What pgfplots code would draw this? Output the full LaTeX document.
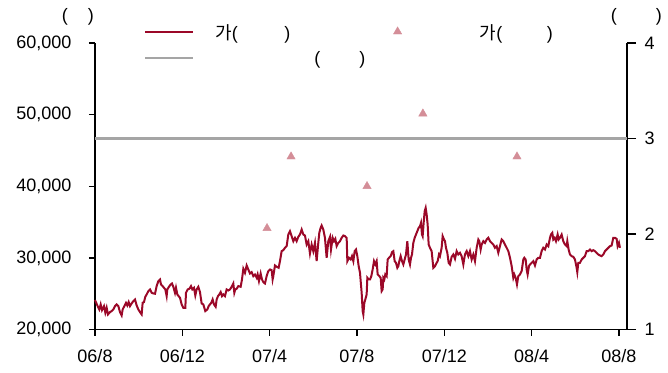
\documentclass[border=0pt]{standalone}
\usepackage{fontspec}
\setmainfont{Liberation Sans}
\newfontfamily\kr{Noto Sans CJK KR}
\usepackage{pgfplots}
\pgfplotsset{compat=1.18}
\usepackage{pgfplotstable}

\definecolor{price}{RGB}{155,8,40}
\definecolor{band}{RGB}{165,165,165}
\definecolor{target}{RGB}{212,142,152}

% month index: 0 = 06/8, 4 = 06/12, ..., 24 = 08/8
\pgfplotstableread{
m v
0.000 24105
0.107 23361
0.198 22803
0.260 23500
0.321 22710
0.412 23268
0.473 22338
0.534 23035
0.595 22106
0.687 22431
0.763 22570
0.840 22803
0.916 23268
0.992 23500
1.069 23268
1.145 22431
1.221 21966
1.267 22803
1.344 23268
1.420 23733
1.481 23361
1.542 23826
1.603 23268
1.679 23640
1.756 23965
1.832 24198
1.908 23361
1.985 22803
2.061 22431
2.137 22106
2.183 23733
2.244 23826
2.305 24570
2.366 24895
2.443 25360
2.519 25592
2.595 25127
2.672 25034
2.748 24988
2.824 26057
2.901 26755
2.977 26987
3.023 26290
3.099 26057
3.160 25825
3.221 25592
3.282 24662
3.313 25592
3.389 25964
3.466 26290
3.527 26429
3.588 25964
3.664 25127
3.710 25825
3.771 24895
3.832 24662
3.893 24430
3.969 23500
4.046 23035
4.137 23035
4.168 25127
4.244 25592
4.321 25685
4.397 26057
4.458 25592
4.534 25825
4.595 24755
4.656 25592
4.733 25964
4.809 25220
4.885 23640
4.962 23500
5.053 22570
5.145 22803
5.206 23268
5.267 23500
5.328 23733
5.389 24198
5.450 23500
5.527 23175
5.573 24198
5.634 24662
5.695 24895
5.756 25220
5.817 24662
5.878 24895
5.954 24662
6.031 25592
6.107 25453
6.183 25592
6.260 25964
6.336 26429
6.382 25127
6.427 25592
6.489 25685
6.565 26057
6.672 25964
6.733 26987
6.794 28475
6.870 27917
6.947 28940
7.023 28382
7.099 27824
7.176 28010
7.252 27452
7.328 27684
7.405 27219
7.450 27684
7.511 26755
7.588 27824
7.649 26987
7.710 26615
7.786 26429
7.863 27452
7.939 28149
8.015 28382
8.092 28289
8.137 26987
8.168 27452
8.244 28940
8.321 28754
8.412 28614
8.473 29544
8.550 30939
8.626 31078
8.702 31404
8.779 31636
8.855 33263
8.931 33728
9.008 33031
9.084 32333
9.160 32798
9.237 32333
9.313 32938
9.389 33263
9.466 33960
9.542 33263
9.618 33124
9.695 31868
9.771 32333
9.847 30613
9.924 31868
10.000 30939
10.076 32101
10.153 29544
10.214 31636
10.275 33496
10.336 34193
10.382 34518
10.458 33960
10.534 32798
10.611 30009
10.687 32333
10.765 32938
10.811 31171
10.887 32798
10.948 32333
11.009 32659
11.070 31636
11.147 32101
11.223 32333
11.299 32798
11.376 33124
11.452 33031
11.528 32798
11.559 29544
11.635 30009
11.712 29776
11.773 30241
11.834 29544
11.895 30939
11.956 31171
12.017 30241
12.078 28847
12.139 27917
12.215 25127
12.261 22570
12.292 22106
12.338 23733
12.383 24198
12.444 24895
12.475 27219
12.536 26987
12.597 26987
12.658 27452
12.719 28382
12.780 29544
12.841 29079
12.902 29544
12.948 27684
13.025 27452
13.086 27219
13.131 25360
13.177 25592
13.208 27219
13.253 26987
13.299 27684
13.360 27452
13.406 29776
13.467 30009
13.544 30241
13.605 30799
13.666 30939
13.727 29544
13.788 29311
13.849 28614
13.895 28847
13.940 29544
14.002 30241
14.063 29544
14.124 29079
14.185 29776
14.246 30474
14.307 32333
14.368 29776
14.429 29079
14.475 30009
14.521 30474
14.582 32101
14.643 32798
14.704 33263
14.765 33728
14.826 34193
14.887 34425
14.933 34890
14.979 33263
15.009 33031
15.055 34890
15.101 36517
15.147 36982
15.192 36053
15.238 34658
15.284 31868
15.345 31404
15.421 30939
15.498 28614
15.574 28847
15.650 29311
15.696 29544
15.757 30474
15.803 30241
15.879 31404
15.925 33031
15.986 32566
16.032 32333
16.078 31404
16.139 30706
16.200 29311
16.261 29079
16.337 30148
16.414 30474
16.490 29869
16.566 30939
16.643 30474
16.719 30706
16.795 30241
16.872 29079
16.948 30474
17.025 30939
17.101 30241
17.177 30939
17.254 29776
17.330 30474
17.406 29544
17.483 31404
17.559 32566
17.605 32333
17.666 31171
17.712 31868
17.788 32333
17.864 32101
17.941 32566
18.017 32798
18.093 32333
18.170 32101
18.246 31868
18.322 31404
18.399 31636
18.475 30706
18.551 31636
18.628 32566
18.704 32333
18.780 31868
18.857 31404
18.933 30939
19.010 30009
19.086 28847
19.162 27219
19.208 27684
19.269 27219
19.330 26290
19.391 27452
19.467 27684
19.544 28149
19.620 29776
19.666 30009
19.727 29776
19.773 28382
19.818 27684
19.879 28847
19.925 29079
20.002 29311
20.078 29544
20.154 28940
20.231 29776
20.307 30009
20.383 30009
20.460 30939
20.536 31404
20.612 31171
20.689 31868
20.765 31636
20.841 32798
20.887 33263
20.948 33496
20.994 32566
21.055 32798
21.116 32333
21.192 33263
21.238 32566
21.299 32798
21.376 33263
21.452 32333
21.528 31868
21.605 31636
21.635 32333
21.696 31171
21.757 30474
21.834 30241
21.910 30148
21.986 29776
22.063 28614
22.093 28010
22.139 29311
22.215 29311
22.292 29776
22.368 30009
22.444 30241
22.521 30939
22.597 30939
22.673 31171
22.750 30939
22.826 31078
22.902 30939
22.979 30706
23.055 30474
23.131 30334
23.208 30241
23.284 30474
23.360 30939
23.437 31171
23.513 31404
23.589 31636
23.666 31729
23.742 32798
23.818 32798
23.895 32659
23.940 31636
24.001 32101
24.047 31404
}\pricetable

\pgfplotstableread{
m r
7.88 2.06
8.98 2.81
12.46 2.50
15.02 3.26
19.33 2.81
}\ratiotable

\begin{document}
\begin{tikzpicture}[font=\fontsize{18}{21}\selectfont]
\useasboundingbox (-95pt,-42.5pt) rectangle (573pt,329.5pt);
\pgfplotsset{
  base/.style={
    scale only axis, width=532pt, height=286.5pt,
    at={(0pt,0pt)}, anchor=south west,
    xmin=0, xmax=24.37, clip=false,
    axis line style={-, line width=1.3pt, black},
    tick style={line width=1.3pt, black},
    tick align=outside,
    tick label style={font=\fontsize{18}{21}\selectfont},
    /pgf/number format/assume math mode=true,
  },
}
\begin{axis}[base,
  axis x line*=bottom, axis y line*=left,
  ymin=20000, ymax=60000, ytick={20000,30000,...,60000},
  scaled y ticks=false,
  yticklabel style={xshift=-14pt},
  xtick={0,4,...,24},
  xticklabels={06/8,06/12,07/4,07/8,07/12,08/4,08/8},
  xticklabel style={yshift=-10pt},
  major tick length=6pt]
\addplot[price, line width=2pt, no marks] table[x=m,y=v]{\pricetable};
\node at (axis description cs:-0.032,1.0908) {(\hspace{20pt})};
\end{axis}
\begin{axis}[base,
  axis x line=none, axis y line*=right,
  ymin=1, ymax=4, ytick={1,2,3,4},
  yticklabel style={xshift=5pt},
  major tick length=9pt,
  legend columns=2,
  legend style={draw=none, fill=none, inner sep=0pt,
    at={(axis description cs:0.0921,1.0663)}, anchor=north west,
    nodes={inner sep=0pt, text depth=0pt},
    column sep=0pt, row sep=12pt, cells={anchor=west},
    font=\fontsize{18}{21}\selectfont}]
\addlegendimage{legend image code/.code={
    \draw[price, line width=2pt] (0pt,0pt) -- (48pt,0pt);}}
\addlegendentry{\makebox[179pt][l]{\rlap{\hspace{21pt}{\kr 가}(}\hspace{90pt})}}
\addplot[only marks, mark=triangle*, mark size=4.8pt, draw=target, fill=target,
  legend image code/.code={
    \path (0pt,0pt) (48pt,0pt);
    \fill[target] (24pt,4.8pt) -- (19.84pt,-2.4pt) -- (28.16pt,-2.4pt) -- cycle;}]
  table[x=m,y=r]{\ratiotable};
\addlegendentry{\makebox[140pt][l]{\rlap{\hspace{58pt}{\kr 가}(}\hspace{125pt})}}
\addplot[band, line width=2.2pt, no marks,
  legend image code/.code={
    \draw[band, line width=2.2pt] (0pt,0pt) -- (48pt,0pt);}]
  coordinates {(0,3) (24.37,3)};
\addlegendentry{\makebox[179pt][l]{\rlap{\hspace{120pt}(}\hspace{165pt})}}
\node at (axis description cs:1.0178,1.0908) {(\hspace{39pt})};
\end{axis}
\end{tikzpicture}
\end{document}
